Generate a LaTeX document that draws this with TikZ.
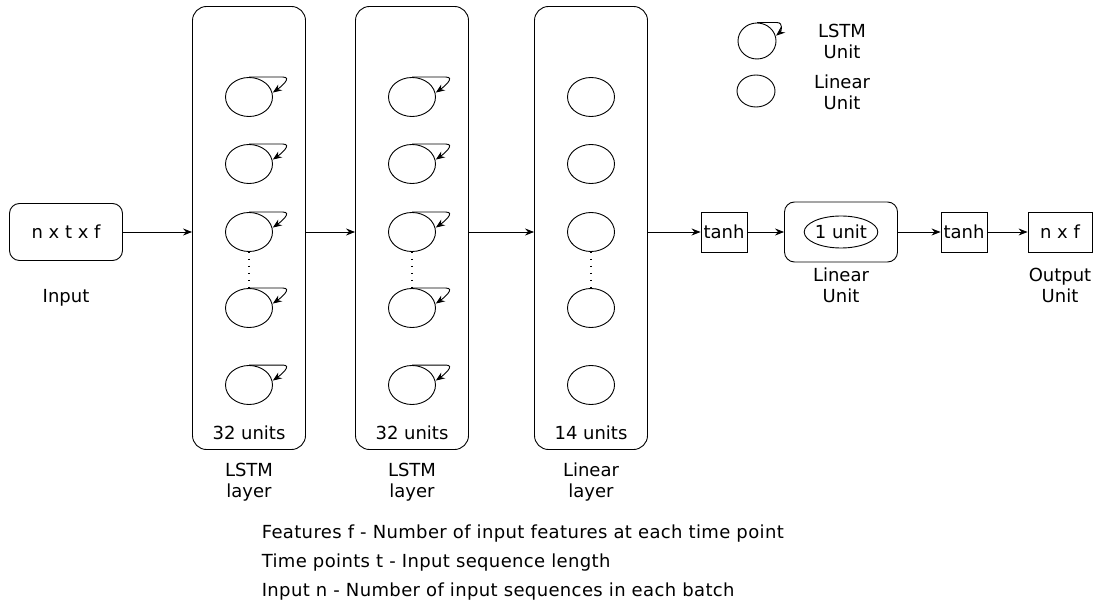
\documentclass[tikz,border=0pt]{standalone}
\usepackage{fontspec}
\setmainfont{DejaVu Sans}
\usetikzlibrary{shapes.geometric, positioning, arrows.meta}

\tikzset{
  layer/.style={draw, rounded corners=14pt, minimum width=113pt, minimum height=443pt},
  unit/.style={draw, ellipse, minimum width=47pt, minimum height=39pt, inner sep=0pt},
  sqbox/.style={draw, minimum width=46pt, minimum height=40pt, inner sep=0pt},
  lbl/.style={align=center},
  selfloop/.style={->, shorten >=0.5pt},
}

\begin{document}
\begin{tikzpicture}[x=1pt, y={(0pt,-1pt)}, font=\fontsize{18}{21}\selectfont, line width=0.9pt, >={Stealth[length=9pt, width=7pt, inset=3pt]}]
\useasboundingbox (0,0) rectangle (1102,609);

% input
\node[draw, rounded corners=10pt, minimum width=113pt, minimum height=57pt] (in) at (66,232) {n x t x f};
\node[lbl] (inlbl) at (66,298) {Input};

% three layers
\node[layer] (l1) at (249,228) {};
\node[layer] (l2) at (412,228) {};
\node[layer] (l3) at (591,228) {};
\node (l1n) at (249,433) {32 units};
\node (l2n) at (412,433) {32 units};
\node (l3n) at (591,433) {14 units};
\node[lbl] (l1lbl) at (249,482) {LSTM\\layer};
\node[lbl] (l2lbl) at (412,482) {LSTM\\layer};
\node[lbl] (l3lbl) at (591,482) {Linear\\layer};

% units in each layer
\foreach \l/\x in {1/249,2/412,3/591}
  \foreach \k/\y in {1/97,2/164,3/232,4/308,5/385}
    \node[unit] (l\l u\k) at (\x,\y) {};
\foreach \l in {1,2,3}
  \draw[line width=1.5pt, dash pattern=on 1.5pt off 5.5pt] (l\l u3.south) -- (l\l u4.north);
% recurrent loops
\foreach \l in {1,2}
  \foreach \k in {1,...,5}
    \draw[selfloop] (l\l u\k.north) -- ++(34,0) to[out=0, in=35, looseness=1.3] (l\l u\k.10);

% connections
\draw[->] (in) -- (in -| l1.west);
\draw[->] (l1u3 -| l1.east) -- (l1u3 -| l2.west);
\draw[->] (l2u3 -| l2.east) -- (l2u3 -| l3.west);

% output part
\node[sqbox] (th1) at (724,232) {tanh};
\node[draw, rounded corners=10pt, minimum width=113pt, minimum height=60pt] (lu) at (841,232) {};
\node[draw, ellipse, minimum width=66pt, minimum height=32pt, inner sep=0pt] (lu1) at (841,232) {1 unit};
\node[sqbox] (th2) at (964,232) {tanh};
\node[sqbox, minimum width=64pt] (out) at (1060,232) {n x f};
\node[lbl] (lulbl) at (841,285) {Linear\\Unit};
\node[lbl] (outlbl) at (1060,285) {Output\\Unit};

\draw[->] (th1 -| l3.east) -- (th1);
\draw[->] (th1) -- (lu);
\draw[->] (lu) -- (th2);
\draw[->] (th2) -- (out);

% legend
\node[draw, ellipse, minimum width=38pt, minimum height=36pt, inner sep=0pt] (leg1) at (757,41) {};
\draw[selfloop] (leg1.north) -- ++(20,0) to[out=0, in=40, looseness=1.3] (leg1.15);
\node[draw, ellipse, minimum width=38pt, minimum height=32pt, inner sep=0pt] (leg2) at (756,91) {};
\node[lbl] (leg1t) at (842,41) {LSTM\\Unit};
\node[lbl] (leg2t) at (842,92) {Linear\\Unit};

% notes
\node[anchor=west] (n1) at (258,534) {\addfontfeatures{LetterSpace=2}Features f - Number of input features at each time point};
\node[anchor=west] (n2) at (258,563) {\addfontfeatures{LetterSpace=2}Time points t - Input sequence length};
\node[anchor=west] (n3) at (258,592) {\addfontfeatures{LetterSpace=2}Input n - Number of input sequences in each batch};
\end{tikzpicture}
\end{document}
